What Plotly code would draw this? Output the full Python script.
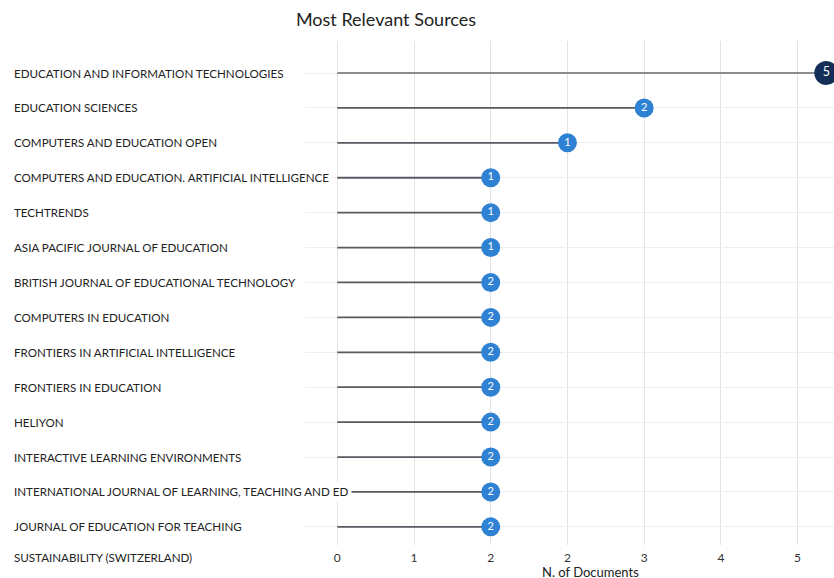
import plotly.graph_objects as go

sources = [
    "EDUCATION AND INFORMATION TECHNOLOGIES",
    "EDUCATION SCIENCES",
    "COMPUTERS AND EDUCATION OPEN",
    "COMPUTERS AND EDUCATION. ARTIFICIAL INTELLIGENCE",
    "TECHTRENDS",
    "ASIA PACIFIC JOURNAL OF EDUCATION",
    "BRITISH JOURNAL OF EDUCATIONAL TECHNOLOGY",
    "COMPUTERS IN EDUCATION",
    "FRONTIERS IN ARTIFICIAL INTELLIGENCE",
    "FRONTIERS IN EDUCATION",
    "HELIYON",
    "INTERACTIVE LEARNING ENVIRONMENTS",
    "INTERNATIONAL JOURNAL OF LEARNING, TEACHING AND ED",
    "JOURNAL OF EDUCATION FOR TEACHING",
    "SUSTAINABILITY (SWITZERLAND)",
]
# position along the x axis (as drawn)
positions = [5.1, 3.2, 2.4, 1.6, 1.6, 1.6, 1.6, 1.6, 1.6, 1.6, 1.6, 1.6, 1.6, 1.6, 1.6]
# number shown inside each marker
doc_labels = ["5", "2", "1", "1", "1", "1", "2", "2", "2", "2", "2", "2", "2", "2", "2"]
x_tick_step = 0.8  # axis ticks every 0.8, shown rounded: 0 1 2 2 3 4 5

FONT = "Lato"
TEXT = "#222222"
LABEL_SIZE = 11.6

fig = go.Figure()

# stems
for i, (s, v) in enumerate(zip(sources, positions)):
    fig.add_trace(go.Scatter(
        x=[0, v], y=[s, s], mode="lines",
        line=dict(color="#8a8d91" if i == 0 else "#555a61", width=1.8),
        hoverinfo="skip", showlegend=False, cliponaxis=True,
    ))

sizes = [24 if i == 0 else 19 for i in range(len(sources))]
colors = ["#132f57" if i == 0 else "#2f82d3" for i in range(len(sources))]
fig.add_trace(go.Scatter(
    x=positions, y=sources, mode="markers+text",
    marker=dict(size=sizes, color=colors, opacity=1, line=dict(width=0)),
    text=doc_labels, textposition="middle center",
    textfont=dict(family=FONT, size=[12.5 if i == 0 else 11 for i in range(len(sources))],
                  color="white"),
    showlegend=False, cliponaxis=True,
))

LABEL_X = -0.558
# left-aligned category labels (white backing hides the stem behind long names)
for s in sources[:-1]:
    fig.add_annotation(
        x=LABEL_X, xref="paper", y=s, yref="y",
        text=s, showarrow=False, xanchor="left", yanchor="middle",
        font=dict(family=FONT, size=LABEL_SIZE, color=TEXT),
        bgcolor="white", borderpad=3,
    )
# last category row lies just below the plotting area
fig.add_annotation(
    x=LABEL_X, xref="paper", y=-0.024, yref="paper",
    text=sources[-1], showarrow=False, xanchor="left", yanchor="middle",
    font=dict(family=FONT, size=LABEL_SIZE, color=TEXT),
    bgcolor="white", borderpad=3,
)

fig.add_annotation(
    x=0.54, xref="paper", y=-0.0536, yref="paper",
    text="N. of Documents", showarrow=False, xanchor="center", yanchor="middle",
    font=dict(family=FONT, size=13, color=TEXT),
)

fig.update_layout(
    width=834, height=578,
    margin=dict(l=305, r=0, t=41, b=33),
    paper_bgcolor="white", plot_bgcolor="white",
    title=dict(text="Most Relevant Sources", x=386 / 834, xref="container", xanchor="center",
               y=1 - 20 / 578, yref="container", yanchor="middle",
               font=dict(family=FONT, size=18, color=TEXT)),
    font=dict(family=FONT, color=TEXT),
    xaxis=dict(
        range=[-0.337, 5.18], tickmode="linear", tick0=0, dtick=x_tick_step, tickformat=".0f",
        showgrid=True, gridcolor="#e3e3e3", gridwidth=1, zeroline=False,
        showline=False, ticks="", tickfont=dict(family=FONT, size=12, color="#333333"),
        ticklabelstandoff=4, automargin=False,
    ),
    yaxis=dict(
        type="category", categoryorder="array", categoryarray=sources,
        range=[13.52, -0.917], showticklabels=False,
        showgrid=True, gridcolor="#efefef", gridwidth=1, zeroline=False,
        showline=False, ticks="", automargin=False,
    ),
)

fig.write_html(
    "out.html",
    config={"displayModeBar": False},
    post_script="document.body.style.margin='0';document.body.style.overflow='hidden';",
)
